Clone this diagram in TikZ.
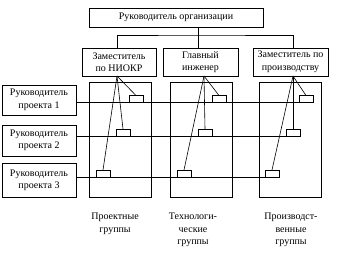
\documentclass[tikz,border=0pt]{standalone}
\usepackage{fontspec}
\setmainfont{Liberation Serif}
\begin{document}
\begin{tikzpicture}[x=1pt,y=-1pt,
  every node/.style={inner sep=0pt, outer sep=0pt},
  box/.style={draw, line width=0.8pt, align=center, font=\fontsize{10}{12.5}\selectfont},
  grp/.style={draw, line width=0.8pt},
  sbox/.style={draw, line width=0.8pt, minimum width=14pt, minimum height=7pt},
  lbl/.style={align=center, anchor=north, font=\fontsize{10}{12.7}\selectfont},
  ln/.style={line width=0.8pt},
  fan/.style={line width=0.6pt}]
\useasboundingbox (0,0) rectangle (347,264);
% top
\node[box, minimum width=174pt, minimum height=19pt] (top) at (176,17.5) {Руководитель организации};
% deputies
\node[box, minimum width=74pt, minimum height=28pt] (d1) at (119,62) {Заместитель\\по НИОКР};
\node[box, minimum width=75pt, minimum height=28pt] (d2) at (200.5,62) {Главный\\инженер};
\node[box, minimum width=75pt, minimum height=28pt] (d3) at (290.5,62) {Заместитель по\\производству};
% groups
\node[grp, minimum width=62pt, minimum height=115pt] (gA) at (120,139.5) {};
\node[grp, minimum width=62pt, minimum height=115pt] (gB) at (201,139.5) {};
\node[grp, minimum width=62pt, minimum height=115pt] (gC) at (290,139.5) {};
% project leaders
\node[box, minimum width=74pt, minimum height=30pt] (p1) at (39,100) {Руководитель\\проекта 1};
\node[box, minimum width=74pt, minimum height=31pt] (p2) at (39,140.5) {Руководитель\\проекта 2};
\node[box, minimum width=74pt, minimum height=34pt] (p3) at (39,180.5) {Руководитель\\проекта 3};
% small boxes
\node[sbox] (a1) at (136,99) {};
\node[sbox] (a2) at (123,132.5) {};
\node[sbox] (a3) at (103,173.5) {};
\node[sbox] (b1) at (219,99) {};
\node[sbox] (b2) at (205,132.5) {};
\node[sbox] (b3) at (184,173.5) {};
\node[sbox] (c1) at (306,99) {};
\node[sbox] (c2) at (293,132.5) {};
\node[sbox] (c3) at (272,173.5) {};
% coordinates
\coordinate (t) at (198,35);
\coordinate (apA) at (117,76);
\coordinate (apB) at (204,76);
\coordinate (apC) at (293,76);
% trunk
\draw[ln] (top.south -| t) -- (t);
\draw[ln] (d1.north -| apA) |- (t) -| (d3.north -| apC);
\draw[ln] (t) -- (d2.north -| t);
% row lines
\draw[ln] (p1.east |- a1.south) -- (c1.south east);
\draw[ln] (p2.east |- a2.south) -- (c2.south east);
\draw[ln] (p3.east |- a3.south) -- (c3.south east);
% fans
\foreach \g/\s in {A/a,B/b,C/c}{
  \draw[fan] (ap\g) -- (\s1.north);
  \draw[fan] (ap\g) -- (\s2.north);
  \draw[fan] (ap\g) -- (\s3.north);
}
% labels
\node[lbl] (lA) at (115,213) {Проектные\\группы};
\node[lbl] (lB) at (193,213) {Технологи-\\ческие\\группы};
\node[lbl] (lC) at (291,213) {Производст-\\венные\\группы};
\end{tikzpicture}
\end{document}
